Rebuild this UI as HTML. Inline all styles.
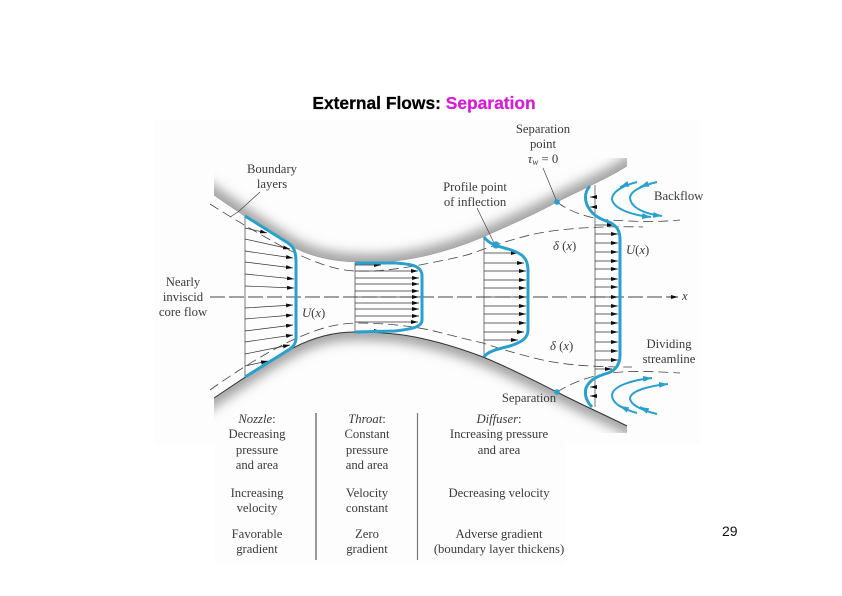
<!DOCTYPE html>
<html><head><meta charset="utf-8"><style>
html,body{margin:0;padding:0;background:#fff}
svg{display:block}
.t{font-family:"Liberation Serif",serif;font-size:12.7px;fill:#3a3a3a;text-anchor:middle}
.l{text-anchor:start}
.i{font-style:italic}
.h{font-family:"Liberation Sans",sans-serif;font-weight:bold;font-size:17.4px;stroke-width:.25}
</style></head><body>
<svg width="842" height="596" viewBox="0 0 842 596" xmlns="http://www.w3.org/2000/svg">
<defs>
<marker id="a" markerUnits="userSpaceOnUse" markerWidth="9" markerHeight="6" refX="7" refY="2" orient="auto"><path d="M0 0L7 2L0 4z" fill="#111"/></marker>
<marker id="b" markerUnits="userSpaceOnUse" markerWidth="11" markerHeight="8" refX="9" refY="3" orient="auto"><path d="M0 0L9 3L0 6z" fill="#2aa0cc"/></marker>
<filter id="bl" x="-10%" y="-50%" width="120%" height="200%"><feGaussianBlur stdDeviation="6"/></filter>
<filter id="s" x="0" y="0" width="100%" height="100%"><feGaussianBlur stdDeviation="0.3"/></filter>
<clipPath id="ct"><path d="M214 130V195C228 205 265 230 293 247C310 256 330 261 355 262C375 263 395 262 415 258C440 253 462 246 483 237C510 225 535 214 557 202C580 190 605 180 627 166V130z"/></clipPath>
<clipPath id="cb"><path d="M214 398C235 384 270 360 293 348C312 338 332 332 355 332C375 332 395 333 415 337C440 342 462 349 483 357C510 368 535 381 557 392C580 404 605 415 627 426V460H214z"/></clipPath>
</defs>
<rect width="842" height="596" fill="#fff"/>
<rect x="155" y="120" width="545" height="325" fill="#fdfdfd"/>
<rect x="215" y="445" width="350" height="120" fill="#fdfdfd"/>

<g filter="url(#s)">
<g clip-path="url(#ct)"><path d="M200 185L214 195C228 205 265 230 293 247C310 256 330 261 355 262C375 263 395 262 415 258C440 253 462 246 483 237C510 225 535 214 557 202C580 190 605 180 627 166L640 158" fill="none" stroke="#9a9a9a" stroke-width="15" filter="url(#bl)"/></g>
<g clip-path="url(#cb)"><path d="M200 408L214 398C235 384 270 360 293 348C312 338 332 332 355 332C375 332 395 333 415 337C440 342 462 349 483 357C510 368 535 381 557 392C580 404 605 415 627 426L640 433" fill="none" stroke="#9a9a9a" stroke-width="15" filter="url(#bl)"/></g>
<path d="M214 398C235 384 270 360 293 348C312 338 332 332 355 332C375 332 395 333 415 337C440 342 462 349 483 357C510 368 535 381 557 392C580 404 605 415 627 426" fill="none" stroke="#333" stroke-width="1"/>
<path d="M214 195C228 205 265 230 293 247C310 256 330 261 355 262C375 263 395 262 415 258C440 253 462 246 483 237C510 225 535 214 557 202C580 190 605 180 627 166" fill="none" stroke="#999" stroke-width=".6"/>

<g fill="none" stroke="#444" stroke-width=".8" stroke-dasharray="10 5">
<path d="M210 204C235 220 270 240 283 247C305 258 330 270 355 271C380 272 405 268 430 263C450 259 465 256 473 253C495 245 510 240 530 235C560 228 600 226 643 227"/>
<path d="M210 390C235 372 270 350 297 338C320 328 335 324 355 323C380 323 405 325 430 330C450 335 465 339 483 343C500 349 515 353 530 357C560 365 590 367 632 367"/>
<path d="M557 202C570 212 590 219 610 220C640 222 660 222 680 220"/>
<path d="M557 392C570 384 585 377 610 373C635 370 660 372 680 373"/>
</g>
<path d="M210 297H672" fill="none" stroke="#444" stroke-width=".9" stroke-dasharray="15 4"/>
<path d="M668 297H678" stroke="#222" stroke-width=".9" marker-end="url(#a)"/>

<g stroke="#444" stroke-width=".7" fill="none">
<path d="M245 216V377M355 263V332M484 237V357M595 185V407"/>
<path d="M230 217L238 212L260 192M543 168L557 202M477 208L495 245"/>
</g>

<g stroke="#333" stroke-width=".7" fill="none">
<path d="M245 228L267 233" marker-end="url(#a)"/><path d="M245 239L290 249" marker-end="url(#a)"/><path d="M245 251L293 258" marker-end="url(#a)"/><path d="M245 262L293 268" marker-end="url(#a)"/><path d="M245 274L294 279" marker-end="url(#a)"/><path d="M245 286L294 288" marker-end="url(#a)"/><path d="M245 308L293 305" marker-end="url(#a)"/><path d="M245 319L293 315" marker-end="url(#a)"/><path d="M245 331L293 325" marker-end="url(#a)"/><path d="M245 342L293 335" marker-end="url(#a)"/><path d="M245 354L290 345" marker-end="url(#a)"/><path d="M245 366L268 361" marker-end="url(#a)"/>
<path d="M355 265H381" marker-end="url(#a)"/><path d="M355 271H418" marker-end="url(#a)"/><path d="M355 278H419" marker-end="url(#a)"/><path d="M355 284H419" marker-end="url(#a)"/><path d="M355 291H419" marker-end="url(#a)"/><path d="M355 297H419" marker-end="url(#a)"/><path d="M355 303H419" marker-end="url(#a)"/><path d="M355 309H419" marker-end="url(#a)"/><path d="M355 316H419" marker-end="url(#a)"/><path d="M355 322H418" marker-end="url(#a)"/><path d="M355 331H381" marker-end="url(#a)"/>
<path d="M484 253H518" marker-end="url(#a)"/><path d="M484 263H524" marker-end="url(#a)"/><path d="M484 271H526" marker-end="url(#a)"/><path d="M484 280H526" marker-end="url(#a)"/><path d="M484 288H526" marker-end="url(#a)"/><path d="M484 297H526" marker-end="url(#a)"/><path d="M484 306H526" marker-end="url(#a)"/><path d="M484 314H526" marker-end="url(#a)"/><path d="M484 323H526" marker-end="url(#a)"/><path d="M484 332H524" marker-end="url(#a)"/><path d="M484 340H518" marker-end="url(#a)"/>
<path d="M595 197H590" marker-end="url(#a)"/><path d="M595 207H590" marker-end="url(#a)"/><path d="M595 225H614" marker-end="url(#a)"/><path d="M595 234H618" marker-end="url(#a)"/><path d="M595 243H618" marker-end="url(#a)"/><path d="M595 252H618" marker-end="url(#a)"/><path d="M595 261H618" marker-end="url(#a)"/><path d="M595 269H618" marker-end="url(#a)"/><path d="M595 279H618" marker-end="url(#a)"/><path d="M595 287H618" marker-end="url(#a)"/><path d="M595 297H618" marker-end="url(#a)"/><path d="M595 306H618" marker-end="url(#a)"/><path d="M595 314H618" marker-end="url(#a)"/><path d="M595 323H618" marker-end="url(#a)"/><path d="M595 332H618" marker-end="url(#a)"/><path d="M595 342H618" marker-end="url(#a)"/><path d="M595 351H618" marker-end="url(#a)"/><path d="M595 360H618" marker-end="url(#a)"/><path d="M595 369H612" marker-end="url(#a)"/><path d="M595 387H590" marker-end="url(#a)"/><path d="M595 396H590" marker-end="url(#a)"/>
</g>

<g fill="none" stroke="#2aa0cc" stroke-width="3" stroke-linejoin="round">
<path d="M245 216L288 243C294 247 296 252 296 262V338C296 343 294 346 290 349L245 377"/>
<path d="M355 263H395C412 264 422 266 422 276V320C422 327 412 329 395 331L355 332"/>
<path d="M484 237C490 245 498 246 508 249C522 253 528 258 528 270V330C528 338 522 342 510 346C498 349 488 351 484 357"/>
<path d="M590 186C584 192 584 202 590 210C596 218 604 220 611 223C618 227 620 232 620 240V355C620 364 616 370 608 373C598 376 590 379 586 388C584 396 587 402 592 407"/>
</g>
<circle cx="496" cy="245" r="3.600" fill="#2aa0cc"/>
<circle cx="557" cy="202" r="2.800" fill="#2aa0cc"/>
<circle cx="557" cy="392" r="2.800" fill="#2aa0cc"/>

<g fill="none" stroke="#2aa0cc" stroke-width="2">
<path d="M637 182C622 186 612 192 612 199C613 208 630 215 651 217" marker-end="url(#b)"/>
<path d="M657 182C640 186 630 192 630 198C631 208 645 214 662 216" marker-end="url(#b)"/>
<path d="M637 413C622 409 612 403 612 395C613 386 632 380 652 378" marker-end="url(#b)"/>
<path d="M657 414C640 410 630 404 630 398C631 391 648 386 668 384" marker-end="url(#b)"/>
<path d="M628 184L620 187" marker-end="url(#b)"/>
<path d="M648 184L640 187" marker-end="url(#b)"/>
<path d="M628 410L620 406" marker-end="url(#b)"/>
<path d="M648 411L640 407" marker-end="url(#b)"/>
</g>
</g>

<text x="424" y="109" text-anchor="middle" class="h"><tspan fill="#000" stroke="#000">External Flows: </tspan><tspan fill="#d41fd4" stroke="#d41fd4">Separation</tspan></text>

<g class="labels">
<text class="t" x="272" y="173">Boundary</text><text class="t" x="272" y="188">layers</text>
<text class="t" x="543" y="133">Separation</text><text class="t" x="543" y="148">point</text><text class="t" x="543" y="163"><tspan class="i">τ</tspan><tspan class="i" font-size="9" dy="2">w</tspan><tspan dy="-2"> = 0</tspan></text>
<text class="t" x="475" y="191">Profile point</text><text class="t" x="475" y="206">of inflection</text>
<text class="t l" x="654" y="200">Backflow</text>
<text class="t l" x="553" y="250"><tspan class="i">δ</tspan> (<tspan class="i">x</tspan>)</text>
<text class="t l" x="626" y="254"><tspan class="i">U</tspan>(<tspan class="i">x</tspan>)</text>
<text class="t" x="183" y="286">Nearly</text><text class="t" x="183" y="301">inviscid</text><text class="t" x="183" y="316">core flow</text>
<text class="t l" x="302" y="317"><tspan class="i">U</tspan>(<tspan class="i">x</tspan>)</text>
<text class="t l i" x="682" y="300">x</text>
<text class="t" x="669" y="348">Dividing</text><text class="t" x="669" y="363">streamline</text>
<text class="t l" x="550" y="350"><tspan class="i">δ</tspan> (<tspan class="i">x</tspan>)</text>
<text class="t" x="529" y="402">Separation</text>

<text class="t i" x="257" y="423">Nozzle<tspan font-style="normal">:</tspan></text><text class="t" x="257" y="438">Decreasing</text><text class="t" x="257" y="454">pressure</text><text class="t" x="257" y="469">and area</text>
<text class="t" x="257" y="497">Increasing</text><text class="t" x="257" y="512">velocity</text>
<text class="t" x="257" y="538">Favorable</text><text class="t" x="257" y="553">gradient</text>
<text class="t i" x="367" y="423">Throat<tspan font-style="normal">:</tspan></text><text class="t" x="367" y="438">Constant</text><text class="t" x="367" y="454">pressure</text><text class="t" x="367" y="469">and area</text>
<text class="t" x="367" y="497">Velocity</text><text class="t" x="367" y="512">constant</text>
<text class="t" x="367" y="538">Zero</text><text class="t" x="367" y="553">gradient</text>
<text class="t i" x="499" y="423">Diffuser<tspan font-style="normal">:</tspan></text><text class="t" x="499" y="438">Increasing pressure</text><text class="t" x="499" y="454">and area</text>
<text class="t" x="499" y="497">Decreasing velocity</text>
<text class="t" x="499" y="538">Adverse gradient</text><text class="t" x="499" y="553">(boundary layer thickens)</text>
</g>
<path d="M316 413V560" stroke="#333" stroke-width="1"/>
<path d="M417.500 413V560" stroke="#777" stroke-width="1.200"/>
<text x="722" y="536" font-family="Liberation Sans,sans-serif" font-size="14" fill="#111">29</text>
</svg>
</body></html>
